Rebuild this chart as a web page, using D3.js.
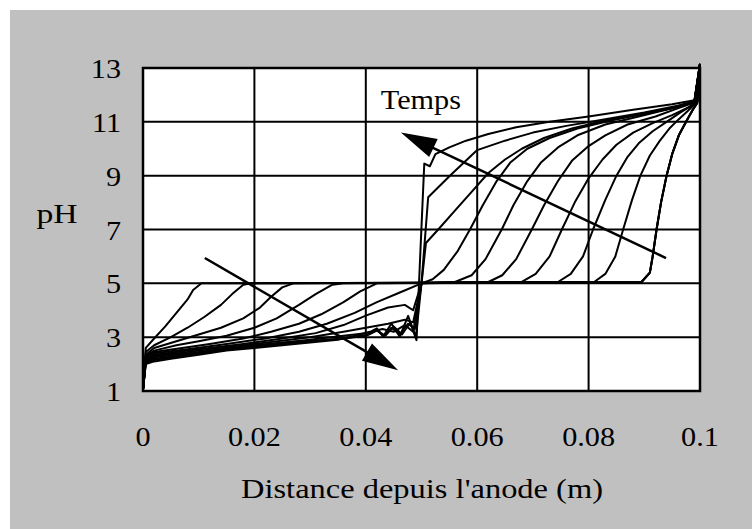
<!DOCTYPE html>
<html>
<head>
<meta charset="utf-8">
<script src="https://cdn.jsdelivr.net/npm/d3@7"></script>
<style>
  html, body { margin: 0; padding: 0; background: #fff; }
  svg { display: block; }
  text { font-family: "Liberation Serif", "Times New Roman", serif; fill: #000; }
</style>
</head>
<body>
<svg width="752" height="529"></svg>
<script>
// axis ticks
const xTicks = [0, 0.02, 0.04, 0.06, 0.08, 0.1];
const xTickLabels = ["0", "0.02", "0.04", "0.06", "0.08", "0.1"];
const yTicks = [1, 3, 5, 7, 9, 11, 13];

// pH profiles [distance (m), pH], one per time step (t1 = earliest)
const t1 = [[0,1.05],[0.0005,2.6],[0.002,2.95],[0.004,3.4],[0.006,3.9],[0.008,4.4],[0.009,4.75],[0.0105,5.0],
  [0.0895,5.05],[0.091,5.4],[0.0915,6.0],[0.0922,7.0],[0.093,8.0],[0.094,9.0],[0.095,9.8],[0.0962,10.5],[0.0975,11.0],[0.0987,11.45],[0.0995,11.7],[0.1,13.15]];
const t2 = [[0,1.05],[0.0005,2.45],[0.002,2.7],[0.005,3.0],[0.008,3.35],[0.011,3.75],[0.014,4.2],[0.016,4.6],[0.018,4.95],[0.0195,5.0],
  [0.0895,5.05],[0.091,5.4],[0.0915,6.0],[0.0922,7.0],[0.093,8.0],[0.094,9.0],[0.095,9.8],[0.0962,10.5],[0.0975,11.0],[0.0987,11.45],[0.0995,11.7],[0.1,13.15]];
const t3 = [[0,1.05],[0.0005,2.35],[0.002,2.6],[0.006,2.85],[0.01,3.1],[0.014,3.35],[0.018,3.7],[0.021,4.1],[0.023,4.5],[0.025,4.85],[0.027,5.0],
  [0.0895,5.05],[0.091,5.4],[0.0915,6.0],[0.0922,7.0],[0.093,8.0],[0.094,9.0],[0.095,9.8],[0.0962,10.5],[0.0975,11.0],[0.0987,11.45],[0.0995,11.7],[0.1,13.15]];
const t4 = [[0,1.05],[0.0005,2.3],[0.002,2.5],[0.006,2.7],[0.01,2.85],[0.015,3.05],[0.02,3.35],[0.024,3.7],[0.028,4.2],[0.031,4.6],[0.034,4.95],[0.036,5.0],
  [0.081,5.05],[0.083,5.35],[0.0848,6.0],[0.0862,7.0],[0.0878,8.1],[0.0893,9.0],[0.091,9.75],[0.0928,10.3],[0.0945,10.75],[0.0962,11.1],[0.0978,11.4],[0.099,11.65],[0.1,13.15]];
const t5 = [[0,1.05],[0.0005,2.25],[0.002,2.45],[0.007,2.6],[0.012,2.75],[0.018,2.95],[0.023,3.2],[0.028,3.5],[0.032,3.85],[0.036,4.3],[0.039,4.7],[0.042,5.0],
  [0.0745,5.05],[0.0768,5.35],[0.079,6.0],[0.0808,7.0],[0.083,8.1],[0.085,9.0],[0.087,9.7],[0.089,10.2],[0.0915,10.65],[0.094,11.0],[0.0965,11.35],[0.0985,11.6],[0.0995,11.75],[0.1,13.15]];
const t6 = [[0,1.05],[0.0005,2.2],[0.002,2.4],[0.008,2.55],[0.015,2.75],[0.022,2.95],[0.028,3.2],[0.033,3.5],[0.038,3.9],[0.042,4.3],[0.046,4.65],[0.05,5.0],
  [0.068,5.05],[0.0705,5.35],[0.073,6.0],[0.0752,7.0],[0.0775,8.0],[0.08,8.9],[0.0825,9.6],[0.085,10.15],[0.088,10.6],[0.0915,10.95],[0.095,11.25],[0.098,11.55],[0.0995,11.75],[0.1,13.15]];
const t7 = [[0,1.05],[0.0005,2.2],[0.002,2.35],[0.01,2.55],[0.018,2.75],[0.025,2.95],[0.031,3.15],[0.036,3.45],[0.04,3.8],[0.044,4.1],[0.047,4.2],[0.0485,4.0],[0.05,5.0],
  [0.062,5.05],[0.0645,5.3],[0.067,5.9],[0.0698,7.0],[0.072,7.9],[0.0745,8.8],[0.077,9.55],[0.08,10.1],[0.083,10.5],[0.087,10.9],[0.092,11.2],[0.096,11.5],[0.099,11.72],[0.1,13.15]];
const t8 = [[0,1.05],[0.0005,2.15],[0.002,2.3],[0.01,2.5],[0.02,2.75],[0.03,3.0],[0.036,3.2],[0.04,3.35],[0.044,3.5],[0.047,3.65],[0.0485,3.55],[0.05,5.0],
  [0.056,5.05],[0.059,5.3],[0.0615,5.9],[0.0644,7.0],[0.0665,7.9],[0.069,8.8],[0.0715,9.5],[0.0745,10.05],[0.078,10.5],[0.083,10.9],[0.089,11.2],[0.095,11.5],[0.099,11.75],[0.1,13.15]];
const t9 = [[0,1.05],[0.0005,2.1],[0.002,2.25],[0.01,2.45],[0.02,2.7],[0.03,2.9],[0.036,3.05],[0.04,3.15],[0.043,3.3],[0.045,3.2],[0.047,3.45],[0.0485,3.2],[0.05,5.0],
  [0.052,5.15],[0.054,5.5],[0.0565,6.2],[0.0587,7.0],[0.061,7.9],[0.0635,8.8],[0.066,9.5],[0.069,10.0],[0.073,10.4],[0.078,10.75],[0.084,11.05],[0.09,11.3],[0.096,11.55],[0.099,11.75],[0.1,13.15]];
const t10 = [[0,1.05],[0.0005,2.1],[0.002,2.2],[0.01,2.4],[0.02,2.65],[0.03,2.85],[0.036,2.95],[0.04,3.05],[0.042,3.25],[0.0435,3.05],[0.045,3.4],[0.0465,3.1],[0.048,3.55],[0.049,3.0],[0.05,5.0],
  [0.0508,6.5],[0.053,7.0],[0.056,7.7],[0.059,8.4],[0.062,9.1],[0.065,9.6],[0.068,10.0],[0.072,10.4],[0.077,10.75],[0.083,11.05],[0.09,11.3],[0.096,11.55],[0.099,11.75],[0.1,13.15]];
const t11 = [[0,1.05],[0.0005,2.05],[0.002,2.15],[0.01,2.4],[0.02,2.65],[0.03,2.85],[0.036,2.95],[0.0405,3.1],[0.042,3.25],[0.0432,3.05],[0.0446,3.35],[0.0461,3.1],[0.0476,3.5],[0.0488,3.3],[0.05,5.0],
  [0.0512,8.2],[0.0551,9.0],[0.06,9.95],[0.065,10.3],[0.07,10.6],[0.076,10.85],[0.083,11.1],[0.09,11.35],[0.096,11.6],[0.099,11.78],[0.1,13.15]];
const t12 = [[0,1.05],[0.0005,2.0],[0.002,2.1],[0.005,2.2],[0.01,2.35],[0.015,2.5],[0.02,2.6],[0.025,2.7],[0.03,2.8],[0.035,2.9],[0.0408,3.2],[0.042,3.33],[0.0431,3.02],[0.0446,3.51],[0.0461,3.02],[0.0476,3.79],[0.0491,2.89],
  [0.0505,9.45],[0.0515,9.35],[0.0525,9.8],[0.055,10.05],[0.058,10.3],[0.062,10.55],[0.067,10.8],[0.073,11.0],[0.08,11.2],[0.088,11.45],[0.095,11.65],[0.099,11.8],[0.1,13.15]];
const curves = [t1, t2, t3, t4, t5, t6, t7, t8, t9, t10, t11, t12];

// annotation arrows [tail, tip] and label
const arrowAcid = [[0.0111, 5.94], [0.0458, 1.77]];
const arrowBase = [[0.0939, 5.94], [0.0463, 10.6]];
const tempsLabel = { text: "Temps", x: 0.0427, y: 11.46 };

const svg = d3.select("svg");
const W = 752, H = 529;
const margin = { left: 143, right: 52, top: 68, bottom: 138 };

// gray frame
svg.append("rect").attr("x", 10).attr("y", 10).attr("width", W - 10).attr("height", H - 10).attr("fill", "#c0c0c0");

const x = d3.scaleLinear().domain([0, 0.1]).range([margin.left, W - margin.right]);
const y = d3.scaleLinear().domain([1, 13]).range([H - margin.bottom, margin.top]);

// plot area
svg.append("rect")
  .attr("x", x(0)).attr("y", y(13))
  .attr("width", x(0.1) - x(0)).attr("height", y(1) - y(13))
  .attr("fill", "#fff");

// grid
svg.append("g").selectAll("line").data(xTicks).enter().append("line")
  .attr("x1", d => x(d)).attr("x2", d => x(d))
  .attr("y1", y(1)).attr("y2", y(13))
  .attr("stroke", "#000").attr("stroke-width", 2);
svg.append("g").selectAll("line").data(yTicks).enter().append("line")
  .attr("y1", d => y(d)).attr("y2", d => y(d))
  .attr("x1", x(0)).attr("x2", x(0.1))
  .attr("stroke", "#000").attr("stroke-width", 2);
svg.append("rect")
  .attr("x", x(0)).attr("y", y(13))
  .attr("width", x(0.1) - x(0)).attr("height", y(1) - y(13))
  .attr("fill", "none").attr("stroke", "#000").attr("stroke-width", 2.5);

// text is a bit wider than plain Times in the original
function label(str, px, py, size, anchor, sx) {
  return svg.append("text")
    .attr("transform", `translate(${px},${py}) scale(${sx},1)`)
    .attr("text-anchor", anchor)
    .attr("font-size", size + "px")
    .text(str);
}

yTicks.forEach(v => label(String(v), 121, y(v) + 10, 28, "end", 1.08));
xTicks.forEach((v, i) => label(xTickLabels[i], x(v), 446, 28, "middle", 1.08));
label("pH", 57, 223, 28, "middle", 1.2);
label("Distance depuis l'anode (m)", 422, 498, 28, "middle", 1.16);

// curves
const line = d3.line().x(d => x(d[0])).y(d => y(d[1]));
svg.append("g").selectAll("path").data(curves).enter().append("path")
  .attr("d", line)
  .attr("fill", "none")
  .attr("stroke", "#000")
  .attr("stroke-width", 2)
  .attr("stroke-linejoin", "round");

// arrows
function arrow(a) {
  const x0 = x(a[0][0]), y0 = y(a[0][1]), x1 = x(a[1][0]), y1 = y(a[1][1]);
  const len = Math.hypot(x1 - x0, y1 - y0);
  const ux = (x1 - x0) / len, uy = (y1 - y0) / len;
  const hl = 36, hw = 10;
  const bx = x1 - ux * hl, by = y1 - uy * hl;
  svg.append("line")
    .attr("x1", x0).attr("y1", y0).attr("x2", bx + ux * 4).attr("y2", by + uy * 4)
    .attr("stroke", "#000").attr("stroke-width", 2.5);
  svg.append("polygon")
    .attr("points", [[x1, y1], [bx - uy * hw, by + ux * hw], [bx + uy * hw, by - ux * hw]].join(" "))
    .attr("fill", "#000");
}
arrow(arrowAcid);
arrow(arrowBase);

label(tempsLabel.text, x(tempsLabel.x), y(tempsLabel.y), 28, "start", 1.08);
</script>
</body>
</html>
